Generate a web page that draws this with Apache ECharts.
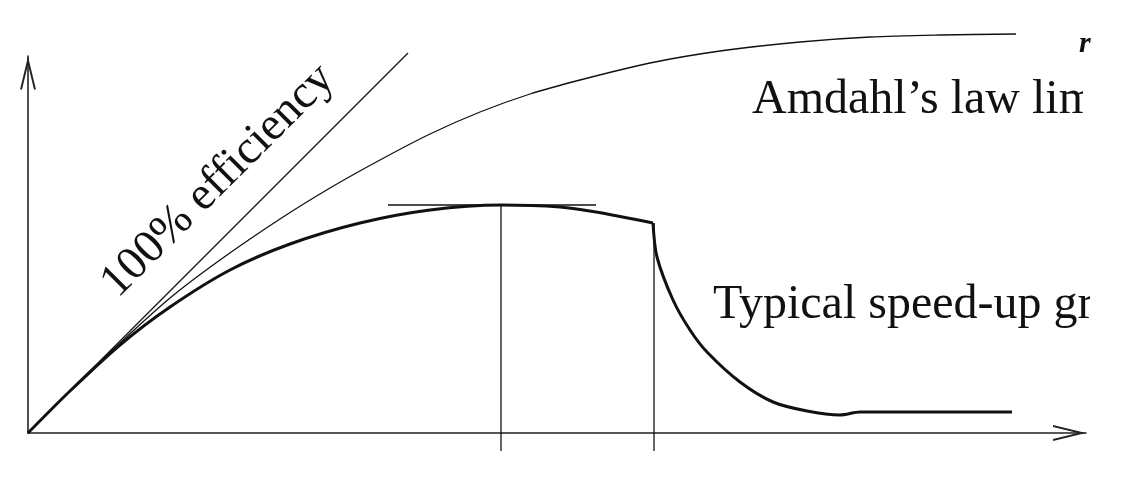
<!DOCTYPE html>
<html>
<head>
<meta charset="utf-8">
<script src="https://cdn.jsdelivr.net/npm/echarts@6/dist/echarts.min.js"></script>
<style>
html,body{margin:0;padding:0;background:#fff;}
#c{width:1123px;height:479px;}
</style>
</head>
<body>
<div id="c"></div>
<script>
// ---- data (abstract units) ----
var efficiencyLine = [[0, 0], [380, 380]];
var amdahlLimit = [[0,0],[52,52],[92,90],[142,135],[192,173],[252,214],[302,245],[352,273],[402,299],[452,321],[502,339],[552,353],[622,370],[692,382],[772,391],[842,396],[912,398],[988,399]];
var speedupRise = [[0,0],[42,42],[92,88],[142,126],[202,163],[262,189],[332,210],[402,223],[473,228],[532,226],[568,221],[625,210]];
var speedupFall = [[625,210],[629,176],[645,133],[662,103],[679,81],[712,51],[745,31],[779,22],[812,18],[832,21],[984,21]];
var peakTangent = [[360,228],[568,228]];
var peakMarker = [[473,228],[473,-18]];
var dropMarker = [[626,210],[626,-18]];
var labelEfficiency = '100% efficiency';
var labelAmdahl = 'Amdahl\u2019s law limit';
var labelTypical = 'Typical speed-up graph';
var labelTopRight = 'r';

var chevron = 'path://M8 0L16 33L14 33L8 8.25L2 33L0 33Z';
var serif = '"Liberation Serif","DejaVu Serif",serif';
var ink = '#111';

function thin(data){
  return {type:'line', data:data, showSymbol:false, symbol:'none', clip:false, silent:true,
    lineStyle:{color:ink, width:1.3}, z:3};
}
function thick(data){
  return {type:'line', data:data, showSymbol:false, symbol:'none', clip:false, silent:true,
    smooth:0.3, lineStyle:{color:ink, width:3}, z:4};
}
var amd = thin(amdahlLimit); amd.smooth = 0.3;

var chart = echarts.init(document.getElementById('c'), null, {renderer:'canvas'});
chart.setOption({
  animation:false,
  backgroundColor:'#fff',
  grid:{left:28, right:37, top:56, bottom:46},
  xAxis:{type:'value', min:0, max:1058,
    axisLine:{show:true, lineStyle:{color:'#222', width:1.6}, symbol:['none', chevron], symbolSize:[17,33], symbolOffset:[0,-16.5]},
    axisTick:{show:false}, axisLabel:{show:false}, splitLine:{show:false}},
  yAxis:{type:'value', min:0, max:377,
    axisLine:{show:true, lineStyle:{color:'#222', width:1.6}, symbol:['none', chevron], symbolSize:[16,34], symbolOffset:[0,-17]},
    axisTick:{show:false}, axisLabel:{show:false}, splitLine:{show:false}},
  series:[
    thin(efficiencyLine),
    amd,
    thick(speedupRise),
    thick(speedupFall),
    thin(peakTangent),
    thin(peakMarker),
    thin(dropMarker)
  ],
  graphic:[
    {type:'text', x:218, y:181, rotation:Math.PI/4, z:10,
      style:{text:labelEfficiency, font:'47px '+serif, fill:'#111', align:'center', verticalAlign:'middle'}},
    {type:'text', x:752, y:100, z:10,
      style:{text:labelAmdahl, font:'48px '+serif, fill:'#111', align:'left', verticalAlign:'middle'}},
    {type:'text', x:713, y:305, z:10,
      style:{text:labelTypical, font:'48px '+serif, fill:'#111', align:'left', verticalAlign:'middle'}},
    {type:'text', x:1079, y:44, z:10,
      style:{text:labelTopRight, font:'italic bold 30px '+serif, fill:'#111', align:'left', verticalAlign:'middle'}},
    {type:'rect', shape:{x:1083, y:60, width:40, height:80}, style:{fill:'#fff'}, z:20},
    {type:'rect', shape:{x:1090, y:270, width:33, height:80}, style:{fill:'#fff'}, z:20}
  ]
});
</script>
</body>
</html>
